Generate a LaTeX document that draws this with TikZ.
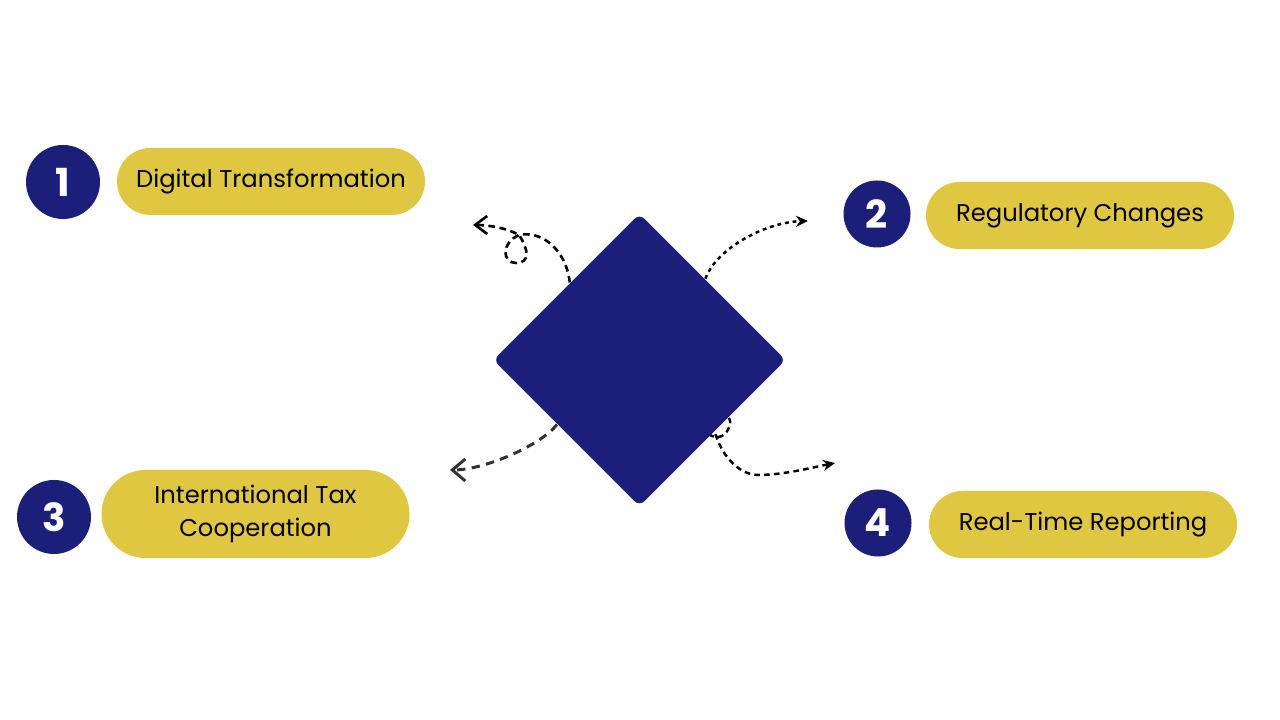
\documentclass[tikz,border=0pt]{standalone}
\usepackage{fontspec}
\setmainfont{Poppins}
\usepackage{xcolor}
\usetikzlibrary{arrows.meta,positioning,calc,shapes.geometric,shapes.misc,backgrounds}
\definecolor{navy}{HTML}{1B1F7A}
\definecolor{mustard}{HTML}{E0C742}

\begin{document}
\begin{tikzpicture}[
  font=\fontsize{6.9}{9.3}\selectfont,
  num/.style={circle, fill=navy, text=white, minimum size=0.74cm, inner sep=0pt, font=\fontsize{11}{12}\selectfont\bfseries},
  smallnum/.style={num, minimum size=0.67cm},
  pill/.style={rounded rectangle, fill=mustard, align=center, minimum width=3.08cm, minimum height=0.67cm, inner sep=0pt},
  hub/.style={diamond, fill=navy, minimum width=2.93cm, minimum height=2.93cm, inner sep=0pt, rounded corners=2pt},
  barb/.style={-{Straight Barb[length=1.2mm, width=1.8mm, line width=0.75pt]}, line width=0.75pt, dash pattern=on 1.9pt off 1.3pt},
  barbgray/.style={-{Straight Barb[length=1.3mm, width=2.2mm, line width=0.85pt]}, line width=0.85pt, draw=black!80, dash pattern=on 2.4pt off 1.8pt},
  dotarrow/.style={-{Stealth[length=1.2mm, width=1.1mm]}, line width=0.7pt, dash pattern=on 1.1pt off 1.1pt},
  dasharrow/.style={-{Stealth[length=1.2mm, width=1.1mm]}, line width=0.7pt, dash pattern=on 1.6pt off 1.2pt}
]
\useasboundingbox (0,0) rectangle (12.8,7.2);

\node[hub] (Hub) at (6.395,3.60) {};

\node[num] (N1) at (0.63,5.38) {1};
\node[pill] (Digital) at (2.71,5.385) {Digital Transformation};
\node[smallnum] (N2) at (8.77,5.06) {2};
\node[pill] (Regulatory) at (10.80,5.045) {Regulatory Changes};
\node[num] (N3) at (0.54,2.03) {3};
\node[pill, minimum height=0.88cm] (Intl) at (2.555,2.06) {International Tax\\Cooperation};
\node[smallnum] (N4) at (8.78,1.97) {4};
\node[pill] (Realtime) at (10.83,1.955) {Real-Time Reporting};

\coordinate (end1) at (4.73,4.95);
\coordinate (end2) at (8.08,4.99);
\coordinate (end3) at (4.50,2.50);
\coordinate (end4) at (8.35,2.57);

% looping arrow towards 1
\draw[barb] (Hub.132) .. controls +(-0.03,0.3) and +(0.25,0.05) .. (5.19,4.85)
  .. controls +(-0.18,-0.08) and +(-0.14,0) .. (5.16,4.57)
  .. controls +(0.14,0) and +(0.1,-0.15) .. (5.19,4.85)
  .. controls +(-0.12,0.07) and +(0.15,0) .. (end1);
\draw[dotarrow] (Hub.51) .. controls +(0.12,0.32) and +(-0.4,-0.01) .. (end2);
\draw[barbgray] (Hub.218) .. controls +(-0.15,-0.2) and +(0.35,0) .. (end3);
\begin{scope}[on background layer]
\draw[dasharrow] (Hub.-33) .. controls (7.33,2.98) and (7.27,2.83) .. (7.18,2.83)
  .. controls (7.00,2.83) and (7.05,3.02) .. (7.14,2.92)
  .. controls +(0.05,-0.25) and +(-0.2,0) .. (7.58,2.45)
  .. controls +(0.25,0) and +(-0.25,-0.05) .. (end4);
\end{scope}
\end{tikzpicture}
\end{document}
